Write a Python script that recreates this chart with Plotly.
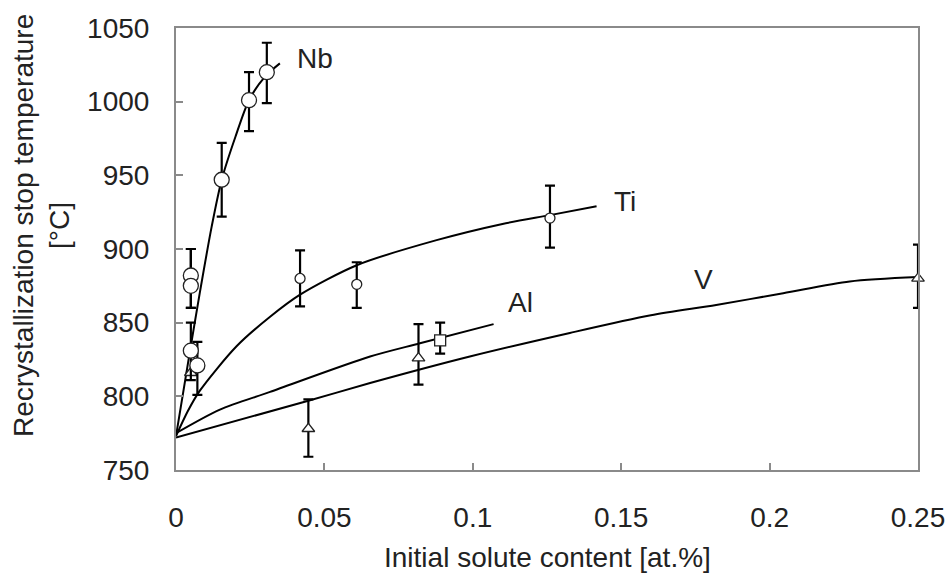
import plotly.graph_objects as go

# Fitted curves
nb_curve_x = [0, 0.004, 0.008, 0.012, 0.0154, 0.020, 0.0246, 0.030, 0.035]
nb_curve_y = [773, 822, 870, 915, 947, 976, 1001, 1017, 1026]
ti_curve_x = [0, 0.004, 0.0081, 0.0204, 0.0317, 0.0418, 0.0609, 0.0878, 0.110, 0.126, 0.1417]
ti_curve_y = [773, 790, 804, 834, 854, 869, 889, 906, 917, 923, 929]
al_curve_x = [0, 0.0148, 0.0317, 0.0654, 0.0822, 0.107]
al_curve_y = [775, 791, 803, 827, 836, 849]
v_curve_x = [0, 0.0446, 0.0654, 0.099, 0.1327, 0.16, 0.182, 0.2046, 0.227, 0.25]
v_curve_y = [772, 797, 809, 827, 843, 855, 862, 870, 878, 881]

# Measured points with error bars
nb_x = [0.005, 0.005, 0.005, 0.0072, 0.0154, 0.0246, 0.0306]
nb_y = [882, 875, 831, 821, 947, 1001, 1020]
nb_up = [18, 25, 19, 16, 25, 19, 20]
nb_dn = [22, 15, 20, 20, 25, 21, 21]
ti_x = [0.0418, 0.0609, 0.126]
ti_y = [880, 876, 921]
ti_up = [19, 15, 22]
ti_dn = [19, 16, 20]
al_x = [0.089]
al_y = [838]
al_up = [12]
al_dn = [9]
v_x = [0.005, 0.0446, 0.0817, 0.25]
v_y = [816, 778, 826, 880]
v_up = [0, 20, 23, 23]
v_dn = [0, 19, 18, 20]

labels = ["Nb", "Ti", "Al", "V"]
label_x = [0.0469, 0.1513, 0.1162, 0.1776]
label_y = [1029, 932, 864, 879.5]

x_ticks = [0, 0.05, 0.1, 0.15, 0.2, 0.25]
x_ticktext = ["0", "0.05", "0.1", "0.15", "0.2", "0.25"]
y_ticks = [750, 800, 850, 900, 950, 1000, 1050]

FONT = "Liberation Sans, Arial, sans-serif"
TXT = "#222222"
FS = 28

fig = go.Figure()

for cx, cy in [(nb_curve_x, nb_curve_y), (ti_curve_x, ti_curve_y),
               (al_curve_x, al_curve_y), (v_curve_x, v_curve_y)]:
    fig.add_trace(go.Scatter(x=cx, y=cy, mode="lines",
                             line=dict(color="black", width=2, shape="spline", smoothing=0.8),
                             showlegend=False, hoverinfo="skip", cliponaxis=False))

def pts(x, y, up, dn, symbol, size):
    return go.Scatter(
        x=x, y=y, mode="markers",
        marker=dict(symbol=symbol, size=size, color="white",
                    line=dict(color="#222", width=1.3)),
        error_y=dict(type="data", array=up, arrayminus=dn, symmetric=False,
                     color="black", thickness=2.2, width=5),
        showlegend=False, cliponaxis=False)

fig.add_trace(pts(ti_x, ti_y, ti_up, ti_dn, "circle", 10))
fig.add_trace(pts(al_x, al_y, al_up, al_dn, "square", 11))
fig.add_trace(pts(v_x, v_y, v_up, v_dn, "triangle-up", 11))
fig.add_trace(pts(nb_x, nb_y, nb_up, nb_dn, "circle", 15))

annotations = []
for t, lx, ly in zip(labels, label_x, label_y):
    annotations.append(dict(x=lx, y=ly, xref="x", yref="y", text=t, showarrow=False,
                            font=dict(family=FONT, size=FS, color=TXT)))
annotations.append(dict(text="Initial solute content [at.%]", xref="paper", yref="paper",
                        x=0.5, y=-0.199, xanchor="center", yanchor="middle", showarrow=False,
                        font=dict(family=FONT, size=FS, color=TXT)))
annotations.append(dict(text="Recrystallization stop temperature<br>[°C]", xref="paper", yref="paper",
                        x=-0.182, y=0.554, xanchor="center", yanchor="middle", showarrow=False,
                        textangle=-90, font=dict(family=FONT, size=FS, color=TXT)))

axis_common = dict(showline=True, linecolor="#8a8a8a", linewidth=2, mirror=True,
                   ticks="inside", ticklen=7, tickcolor="#8a8a8a", tickwidth=1.5,
                   showgrid=False, zeroline=False,
                   tickfont=dict(family=FONT, size=FS, color=TXT))

fig.update_layout(
    width=949, height=577,
    margin=dict(l=176, r=31, t=28, b=107, autoexpand=False),
    paper_bgcolor="white", plot_bgcolor="white",
    xaxis=dict(range=[0, 0.25], tickvals=x_ticks, ticktext=x_ticktext,
               ticklabelstandoff=21, **axis_common),
    yaxis=dict(range=[750, 1050], tickvals=y_ticks, ticklabelstandoff=19, **axis_common),
    annotations=annotations,
)

fig.write_html("out.html", config={"displayModeBar": False},
               post_script="document.body.style.margin='0';document.body.style.padding='0';")
